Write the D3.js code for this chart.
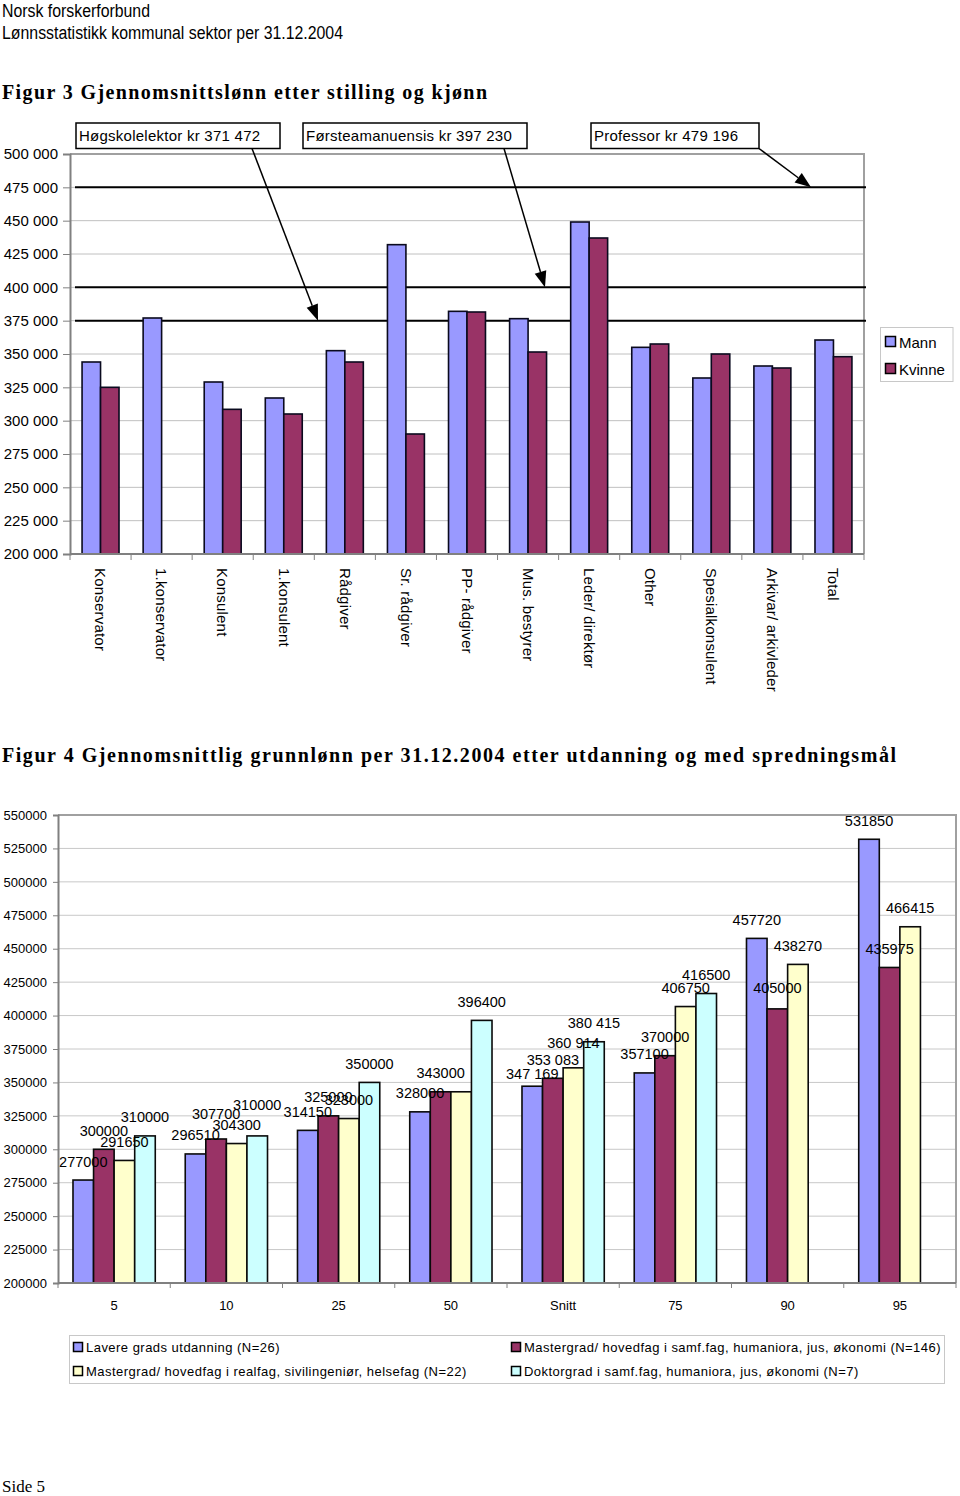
<!DOCTYPE html>
<html><head><meta charset="utf-8">
<script src="https://cdn.jsdelivr.net/npm/d3@7"></script>
<style>
body{margin:0;background:#fff}
svg{display:block}
text{font-family:Arial,"Liberation Sans",sans-serif;fill:#000}
</style>
</head><body>
<svg id="c" width="960" height="1496"></svg>
<script>
// ---------- Figure 3 data ----------
const positions = ["Konservator","1.konservator","Konsulent","1.konsulent","Rådgiver","Sr. rådgiver","PP- rådgiver","Mus. bestyrer","Leder/ direktør","Other","Spesialkonsulent","Arkivar/ arkivleder","Total"];
const genders = ["Mann","Kvinne"];
const mann   = [344000, 377000, 329000, 317000, 352500, 432000, 382000, 376500, 449000, 355000, 332000, 341000, 360500];
const kvinne = [325000, null,   308500, 305000, 344000, 290000, 381500, 351500, 437000, 357500, 350000, 339500, 348000];
const fig3Ticks = [200000,225000,250000,275000,300000,325000,350000,375000,400000,425000,450000,475000,500000];
const refLineValues = [375000, 400000, 475000];
const refLineLabels = ["Høgskolelektor kr 371 472","Førsteamanuensis kr 397 230","Professor kr 479 196"];
const genderColors = ["#9999ff","#993366"];

// ---------- Figure 4 data ----------
const percentiles = ["5","10","25","50","Snitt","75","90","95"];
const eduGroups = ["Lavere grads utdanning (N=26)","Mastergrad/ hovedfag i samf.fag, humaniora, jus, økonomi (N=146)","Mastergrad/ hovedfag i realfag, sivilingeniør, helsefag (N=22)","Doktorgrad i samf.fag, humaniora, jus, økonomi (N=7)"];
const lavere     = [277000, 296510, 314150, 328000, 347169, 357100, 457720, 531850];
const masterSamf = [300000, 307700, 325000, 343000, 353083, 370000, 405000, 435975];
const masterReal = [291650, 304300, 323000, 343000, 360914, 406750, 438270, 466415];
const doktor     = [310000, 310000, 350000, 396400, 380415, 416500, null, null];
const fig4Ticks = [200000,225000,250000,275000,300000,325000,350000,375000,400000,425000,450000,475000,500000,525000,550000];
const spacedGroups = ["Snitt"];
const hiddenLabels = ["50|2"];   // label not shown in the original (coincides with 343000)
const eduColors = ["#9999ff","#993366","#ffffcc","#ccffff"];

const svg = d3.select("#c");
const fmtSpace = d3.formatLocale({decimal:",",thousands:" ",grouping:[3],currency:["",""]}).format(",");

// ---------- Headers ----------
svg.append("text").attr("x",2).attr("y",17).attr("font-size",18)
  .attr("textLength",148).attr("lengthAdjust","spacingAndGlyphs").text("Norsk forskerforbund");
svg.append("text").attr("x",2).attr("y",39).attr("font-size",18)
  .attr("textLength",341).attr("lengthAdjust","spacingAndGlyphs").text("Lønnsstatistikk kommunal sektor per 31.12.2004");
svg.append("text").attr("x",2).attr("y",99).attr("font-size",20).attr("font-weight","bold")
  .style("font-family","'Liberation Serif','Times New Roman',serif")
  .attr("textLength",485).attr("lengthAdjust","spacing").text("Figur 3 Gjennomsnittslønn etter stilling og kjønn");
svg.append("text").attr("x",2).attr("y",762).attr("font-size",20).attr("font-weight","bold")
  .style("font-family","'Liberation Serif','Times New Roman',serif")
  .attr("textLength",894).attr("lengthAdjust","spacing").text("Figur 4 Gjennomsnittlig grunnlønn per 31.12.2004 etter utdanning og med spredningsmål");
svg.append("text").attr("x",2).attr("y",1492).attr("font-size",17)
  .style("font-family","'Liberation Serif','Times New Roman',serif").text("Side 5");

// ---------- Figure 3 ----------
const f3 = {left:70, right:864, top:154, bottom:554};
const y3 = d3.scaleLinear().domain([200000,500000]).range([f3.bottom,f3.top]);
const x3 = d3.scaleBand().domain(positions).range([f3.left,f3.right]).paddingInner(0.395).paddingOuter(0.1975);
const x3s = d3.scaleBand().domain(genders).range([0,x3.bandwidth()]);
const g3 = svg.append("g");

g3.selectAll("line.grid").data(fig3Ticks.slice(1,-1)).join("line")
  .attr("x1",f3.left).attr("x2",f3.right).attr("y1",d=>y3(d)).attr("y2",d=>y3(d))
  .attr("stroke","#c0c0c0").attr("stroke-width",1);
g3.append("path").attr("d",`M${f3.left},${f3.top}H${f3.right}V${f3.bottom}`)
  .attr("fill","none").attr("stroke","#a0a0a0").attr("stroke-width",2);

// reference lines
g3.selectAll("line.ref").data(refLineValues).join("line")
  .attr("x1",f3.left+5).attr("x2",f3.right+2).attr("y1",d=>y3(d)).attr("y2",d=>y3(d))
  .attr("stroke","#000").attr("stroke-width",2);

// bars
const series3 = [mann, kvinne];
positions.forEach((p,i)=>{
  genders.forEach((gname,j)=>{
    const v = series3[j][i];
    if(v==null) return;
    g3.append("rect")
      .attr("x",x3(p)+x3s(gname)).attr("width",x3s.bandwidth())
      .attr("y",y3(v)).attr("height",y3(200000)-y3(v))
      .attr("fill",genderColors[j]).attr("stroke","#0a0a1e").attr("stroke-width",1.6);
  });
});

// y axis
const ax3 = g3.append("g").attr("transform",`translate(${f3.left},0)`)
  .call(d3.axisLeft(y3).tickValues(fig3Ticks).tickSize(7).tickPadding(5).tickFormat(fmtSpace));
ax3.select(".domain").attr("stroke","#808080").attr("stroke-width",2);
ax3.selectAll(".tick line").attr("stroke","#808080");
ax3.selectAll("text").attr("font-size",15).style("font-family","Arial,'Liberation Sans',sans-serif");
// x axis
g3.append("line").attr("x1",f3.left).attr("x2",f3.right).attr("y1",f3.bottom).attr("y2",f3.bottom)
  .attr("stroke","#808080").attr("stroke-width",2);
const bnd3 = positions.map(p=>x3(p)-(x3.step()-x3.bandwidth())/2).concat([f3.right]);
g3.selectAll("line.xt").data(bnd3).join("line")
  .attr("x1",d=>d).attr("x2",d=>d).attr("y1",f3.bottom).attr("y2",f3.bottom+6)
  .attr("stroke","#808080");
g3.selectAll("text.cat").data(positions).join("text")
  .attr("transform",d=>`translate(${x3(d)+x3.bandwidth()/2},568) rotate(90)`)
  .attr("dy","0.35em").attr("font-size",15).attr("letter-spacing",0.2).text(d=>d);

// annotations
const boxes = [{x:76,w:204,tx:252,tipX:318},{x:303,w:224,tx:504,tipX:545},{x:591,w:168,tx:759,tipX:811}];
function arrow(g,x1,y1,x2,y2){
  const a=Math.atan2(y2-y1,x2-x1), L=16, W=6;
  const bx=x2-L*Math.cos(a), by=y2-L*Math.sin(a);
  g.append("line").attr("x1",x1).attr("y1",y1).attr("x2",bx).attr("y2",by).attr("stroke","#000").attr("stroke-width",1.5);
  g.append("path").attr("d",`M${x2},${y2}L${bx-W*Math.sin(a)},${by+W*Math.cos(a)}L${bx+W*Math.sin(a)},${by-W*Math.cos(a)}Z`).attr("fill","#000");
}
refLineLabels.forEach((lab,i)=>{
  const b=boxes[i];
  g3.append("rect").attr("x",b.x).attr("y",123).attr("width",b.w).attr("height",25.5)
    .attr("fill","#fff").attr("stroke","#000").attr("stroke-width",1.5);
  g3.append("text").attr("x",b.x+3).attr("y",140.5).attr("font-size",15).attr("letter-spacing",0.25).text(lab);
  arrow(g3,b.tx,148.5,b.tipX,y3(refLineValues[i]));
});

// legend fig 3
const lg3 = g3.append("g");
lg3.append("rect").attr("x",880.5).attr("y",327.5).attr("width",72.5).attr("height",54)
  .attr("fill","#fff").attr("stroke","#c8c8c8");
genders.forEach((gname,j)=>{
  lg3.append("rect").attr("x",885.5).attr("y",336.5+j*27).attr("width",10).attr("height",10)
    .attr("fill",genderColors[j]).attr("stroke","#000").attr("stroke-width",1.5);
  lg3.append("text").attr("x",899).attr("y",347.5+j*27).attr("font-size",15).text(gname);
});

// ---------- Figure 4 ----------
const f4 = {left:58, right:956, top:815, bottom:1283};
const y4 = d3.scaleLinear().domain([200000,550000]).range([f4.bottom,f4.top]);
const x4 = d3.scaleBand().domain(percentiles).range([f4.left,f4.right]).paddingInner(0.267).paddingOuter(0.1335);
const x4s = d3.scaleBand().domain(d3.range(eduGroups.length)).range([0,x4.bandwidth()]);
const g4 = svg.append("g");
g4.selectAll("line.grid").data(fig4Ticks.slice(1,-1)).join("line")
  .attr("x1",f4.left).attr("x2",f4.right).attr("y1",d=>y4(d)).attr("y2",d=>y4(d))
  .attr("stroke","#c8c8c8").attr("stroke-width",1);
g4.append("path").attr("d",`M${f4.left},${f4.top}H${f4.right}V${f4.bottom}`)
  .attr("fill","none").attr("stroke","#a0a0a0").attr("stroke-width",2);

const series4 = [lavere, masterSamf, masterReal, doktor];
percentiles.forEach((p,i)=>{
  series4.forEach((s,j)=>{
    const v=s[i]; if(v==null) return;
    g4.append("rect").attr("x",x4(p)+x4s(j)).attr("width",x4s.bandwidth())
      .attr("y",y4(v)).attr("height",y4(200000)-y4(v))
      .attr("fill",eduColors[j]).attr("stroke","#0a0a0a").attr("stroke-width",1.6);
  });
});
// small manual nudges of data labels, as placed in the original
const labelNudge = {"10|1":-6, "10|3":-12, "Snitt|0":6, "Snitt|2":-6, "90|1":-2};
percentiles.forEach((p,i)=>{
  series4.forEach((s,j)=>{
    const v=s[i]; if(v==null) return;
    const key=p+"|"+j;
    if(hiddenLabels.includes(key)) return;
    g4.append("text").attr("x",x4(p)+x4s(j)+x4s.bandwidth()/2).attr("y",y4(v)-13.5+(labelNudge[key]||0))
      .attr("text-anchor","middle").attr("font-size",14.5)
      .text(spacedGroups.includes(p)?fmtSpace(v):String(v));
  });
});

const ax4 = g4.append("g").attr("transform",`translate(${f4.left},0)`)
  .call(d3.axisLeft(y4).tickValues(fig4Ticks).tickSize(5).tickPadding(6).tickFormat(d3.format("d")));
ax4.select(".domain").attr("stroke","#808080").attr("stroke-width",2);
ax4.selectAll(".tick line").attr("stroke","#808080");
ax4.selectAll("text").attr("font-size",13).style("font-family","Arial,'Liberation Sans',sans-serif");
g4.append("line").attr("x1",f4.left).attr("x2",f4.right).attr("y1",f4.bottom).attr("y2",f4.bottom)
  .attr("stroke","#808080").attr("stroke-width",2);
const bnd4 = percentiles.map(p=>x4(p)-(x4.step()-x4.bandwidth())/2).concat([f4.right]);
g4.selectAll("line.xt").data(bnd4).join("line")
  .attr("x1",d=>d).attr("x2",d=>d).attr("y1",f4.bottom).attr("y2",f4.bottom+5).attr("stroke","#808080");
g4.selectAll("text.cat").data(percentiles).join("text")
  .attr("x",d=>x4(d)+x4.bandwidth()/2).attr("y",1310).attr("text-anchor","middle")
  .attr("font-size",13).text(d=>d);

// legend fig 4
const lg4 = g4.append("g");
lg4.append("rect").attr("x",69.5).attr("y",1335.5).attr("width",875).attr("height",48)
  .attr("fill","#fff").attr("stroke","#c8c8c8");
const legPos = [[73,1342.5],[511,1342.5],[73,1366.5],[511,1366.5]];
eduGroups.forEach((lab,j)=>{
  const [lx,ly]=legPos[j];
  lg4.append("rect").attr("x",lx+0.5).attr("y",ly).attr("width",9).attr("height",9)
    .attr("fill",eduColors[j]).attr("stroke","#000").attr("stroke-width",1.5);
  lg4.append("text").attr("x",lx+13).attr("y",ly+9.5).attr("font-size",13).attr("letter-spacing",0.47).text(lab);
});
</script>
</body></html>
